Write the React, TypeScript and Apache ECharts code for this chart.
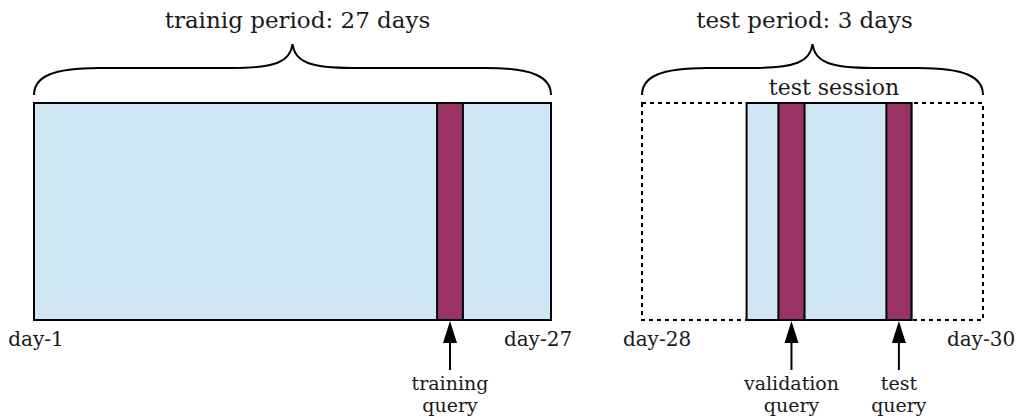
import React, { useEffect, useRef } from 'react';
import * as echarts from 'echarts';

// ---- data ----
const periodNames = ['trainig period: 27 days', 'test period: 3 days'];
const periodStart = [0, 27];
const periodEnd = [27, 30];
const dayStartLabels = ['day-1', 'day-28'];
const dayEndLabels = ['day-27', 'day-30'];
const sessionNames = ['', 'test session'];
const sessionStart = [0, 27.92];
const sessionEnd = [27, 29.37];
const sessionPanel = [0, 1];
const queryNames = ['training\nquery', 'validation\nquery', 'test\nquery'];
const queryStart = [21.05, 28.2, 29.15];
const queryEnd = [22.4, 28.43, 29.37];
const queryPanel = [0, 1, 1];

// ---- styles / layout ----
const FONT = 'DejaVu Serif';
const TXT = '#1a1a1a';
const BLUE = '#d0e6f4';
const PURPLE = '#993366';
const titleDx = [5, -8];
const startLabelDx = [2, 15];
const endLabelDx = [-13, -2];
const sessionLabelDx = [0, 5];

export default function App() {
  const ref = useRef<HTMLDivElement>(null);
  useEffect(() => {
    const chart = echarts.init(ref.current!, null, { renderer: 'svg' });

    const periodItem = (params: any, api: any) => {
      const i = api.value(2);
      const a = api.coord([api.value(0), 1]);
      const b = api.coord([api.value(1), 0]);
      const x0 = a[0], top = a[1], x1 = b[0], bot = b[1];
      const mid = (x0 + x1) / 2;
      const yb = top - 8, yh = top - 35, yt = top - 59;
      const d = `M ${x0} ${yb} C ${x0} ${yb - 18}, ${x0 + 18} ${yh}, ${x0 + 65} ${yh} L ${mid - 60} ${yh} C ${mid - 18} ${yh}, ${mid - 2} ${yh - 6}, ${mid} ${yt} C ${mid + 2} ${yh - 6}, ${mid + 18} ${yh}, ${mid + 60} ${yh} L ${x1 - 65} ${yh} C ${x1 - 18} ${yh}, ${x1} ${yb - 18}, ${x1} ${yb}`;
      return {
        type: 'group',
        children: [
          {
            type: 'rect',
            shape: { x: x0, y: top, width: x1 - x0, height: bot - top },
            style: { fill: 'none', stroke: '#000', lineWidth: 2, lineDash: [4, 4] },
          },
          {
            type: 'path',
            shape: { pathData: d },
            style: { fill: 'none', stroke: '#000', lineWidth: 2 },
          },
          {
            type: 'text',
            style: {
              text: periodNames[i], x: mid + titleDx[i], y: top - 83,
              textAlign: 'center', textVerticalAlign: 'middle',
              font: `23px "${FONT}"`, fill: TXT,
            },
          },
          {
            type: 'text',
            style: {
              text: dayStartLabels[i], x: x0 + startLabelDx[i], y: bot + 19,
              textAlign: 'center', textVerticalAlign: 'middle',
              font: `20px "${FONT}"`, fill: TXT,
            },
          },
          {
            type: 'text',
            style: {
              text: dayEndLabels[i], x: x1 + endLabelDx[i], y: bot + 19,
              textAlign: 'center', textVerticalAlign: 'middle',
              font: `20px "${FONT}"`, fill: TXT,
            },
          },
        ],
      };
    };

    const sessionItem = (params: any, api: any) => {
      const i = api.value(2);
      const a = api.coord([api.value(0), 1]);
      const b = api.coord([api.value(1), 0]);
      return {
        type: 'group',
        children: [
          {
            type: 'rect',
            shape: { x: a[0], y: a[1], width: b[0] - a[0], height: b[1] - a[1] },
            style: { fill: BLUE, stroke: '#000', lineWidth: 2 },
          },
          {
            type: 'text',
            style: {
              text: sessionNames[i], x: (a[0] + b[0]) / 2 + sessionLabelDx[i], y: a[1] - 16,
              textAlign: 'center', textVerticalAlign: 'middle',
              font: `22px "${FONT}"`, fill: TXT,
            },
          },
        ],
      };
    };

    const queryItem = (params: any, api: any) => {
      const i = api.value(2);
      const a = api.coord([api.value(0), 1]);
      const b = api.coord([api.value(1), 0]);
      const cx = (a[0] + b[0]) / 2;
      const y0 = b[1];
      return {
        type: 'group',
        children: [
          {
            type: 'rect',
            shape: { x: a[0], y: a[1], width: b[0] - a[0], height: b[1] - a[1] },
            style: { fill: PURPLE, stroke: '#000', lineWidth: 2 },
          },
          {
            type: 'line',
            shape: { x1: cx, y1: y0 + 18, x2: cx, y2: y0 + 50 },
            style: { stroke: '#000', lineWidth: 2 },
          },
          {
            type: 'polygon',
            shape: { points: [[cx, y0 + 1], [cx - 7, y0 + 23], [cx + 7, y0 + 23]] },
            style: { fill: '#000' },
          },
          {
            type: 'text',
            style: {
              text: queryNames[i], x: cx, y: y0 + 52,
              textAlign: 'center', textVerticalAlign: 'top',
              font: `19px "${FONT}"`, lineHeight: 22, fill: TXT,
            },
          },
        ],
      };
    };

    const mk = (render: any, starts: number[], ends: number[], panels: number[], z: number) =>
      [0, 1].map((p) => ({
        type: 'custom',
        xAxisIndex: p,
        yAxisIndex: p,
        renderItem: render,
        clip: false,
        silent: true,
        z,
        encode: { x: [0, 1] },
        data: starts
          .map((s, i) => [s, ends[i], i])
          .filter((_, i) => panels[i] === p),
      }));

    chart.setOption({
      animation: false,
      grid: [
        { left: 34, top: 103, width: 517, height: 217 },
        { left: 642, top: 103, width: 341, height: 217 },
      ],
      xAxis: [
        { type: 'value', gridIndex: 0, min: periodStart[0], max: periodEnd[0], show: false },
        { type: 'value', gridIndex: 1, min: periodStart[1], max: periodEnd[1], show: false },
      ],
      yAxis: [
        { type: 'value', gridIndex: 0, min: 0, max: 1, show: false },
        { type: 'value', gridIndex: 1, min: 0, max: 1, show: false },
      ],
      series: [
        ...mk(periodItem, periodStart, periodEnd, [0, 1], 1),
        ...mk(sessionItem, sessionStart, sessionEnd, sessionPanel, 2),
        ...mk(queryItem, queryStart, queryEnd, queryPanel, 3),
      ],
    });
    return () => chart.dispose();
  }, []);
  return (
    <div
      ref={ref}
      style={{ position: 'fixed', left: 0, top: 0, width: 1019, height: 417, background: '#fff' }}
    />
  );
}
